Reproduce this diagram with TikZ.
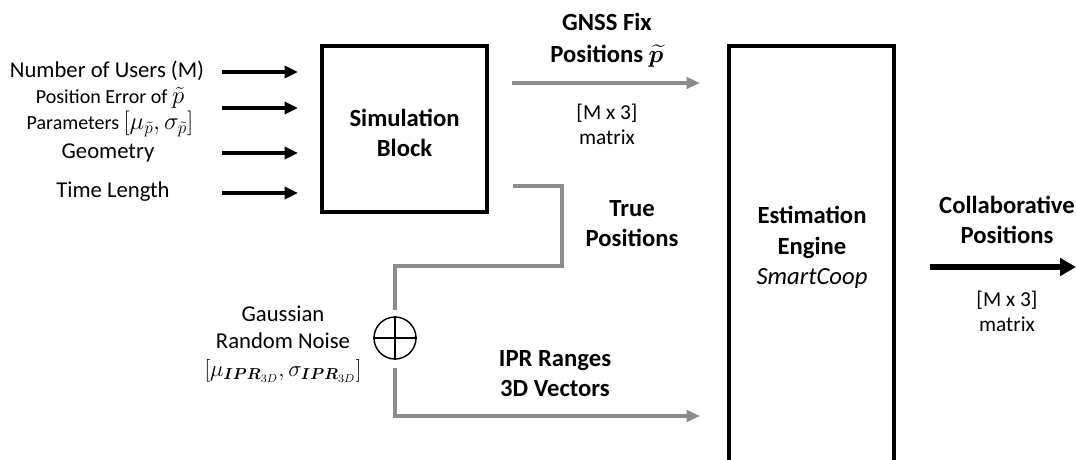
\RequirePackage{fix-cm}
\documentclass[tikz,border=0pt]{standalone}
\usepackage{fontspec}
\setmainfont{Carlito}
\usepackage{amsmath}
\usepackage{xcolor}
\definecolor{simgray}{RGB}{140,140,140}
\usetikzlibrary{arrows.meta, positioning, calc}
\newcommand{\bigmath}[1]{{\fontsize{18.5}{20.5}\selectfont$#1$}}

\begin{document}
\begin{tikzpicture}[x=0.75pt, y=-0.75pt,
  inarrow/.style={line width=3pt, -{Triangle[length=10pt,width=9pt]}},
  outarrow/.style={line width=4.5pt, -{Triangle[length=12pt,width=13pt]}},
  grayline/.style={line width=2.4pt, simgray},
  grayarrow/.style={grayline, -{Triangle[length=10pt,width=8.5pt]}},
  blockline/.style={line width=2.6pt},
  lbl/.style={font=\fontsize{17}{20.5}\selectfont, align=center, inner sep=0pt},
  smalllbl/.style={font=\fontsize{15}{20}\selectfont, align=center, inner sep=0pt},
  mtxlbl/.style={font=\fontsize{16}{19}\selectfont, align=center, inner sep=0pt},
  boldlbl/.style={font=\fontsize{18.5}{23}\selectfont\bfseries, align=center, inner sep=0pt}]
  \useasboundingbox (0,0) rectangle (1076,460);

  % --- Inputs ---
  \node[lbl] (users) at (107,71) {Number of Users (M)};
  \node[smalllbl] (poserr) at (110,112) {Position Error of \bigmath{\tilde{p}}\\Parameters \bigmath{[\mu_{\tilde{p}},\sigma_{\tilde{p}}]}};
  \node[lbl] (geom) at (108,153) {Geometry};
  \node[lbl] (timelen) at (113,192) {Time Length};
  \foreach \nm/\yy in {users/72, poserr/108, geom/153, timelen/193} {
    \coordinate (\nm A) at (222,\yy);
    \coordinate (\nm B) at (298,\yy);
    \draw[inarrow] (\nm A) -- (\nm B);
  }

  % --- Simulation block ---
  \draw[blockline] (322,46) rectangle (487,212);
  \node[boldlbl] (simlbl) at (404.5,133) {Simulation\\Block};

  % --- GNSS fix positions ---
  \coordinate (gnssA) at (512,83);
  \coordinate (gnssB) at (700,83);
  \draw[grayarrow] (gnssA) -- (gnssB);
  \node[boldlbl] (gnsslbl) at (607,40) {GNSS Fix\\[1pt]Positions $\boldsymbol{\widetilde{p}}$};
  \node[mtxlbl] (gnssmtx) at (607,124.5) {[M x 3]\\matrix};

  % --- True positions and noise ---
  \coordinate (trueA) at (513,186);
  \coordinate (trueB) at (562,266);
  \node[draw, circle, line width=1.1pt, minimum size=31.5pt, inner sep=0pt] (sum) at (395,338) {};
  \draw[line width=1.1pt] (sum.north) -- (sum.south) (sum.west) -- (sum.east);
  \draw[grayline, shorten >=5pt] (trueA) -| (trueB) -| (sum.north);
  \node[boldlbl] (truelbl) at (632,223.5) {True\\Positions};
  \node[lbl] (noise) at (283,344) {Gaussian\\Random Noise\\$[\mu_{\boldsymbol{IPR}_{3D}},\sigma_{\boldsymbol{IPR}_{3D}}]$};

  % --- IPR ranges ---
  \coordinate (iprB) at (700,416);
  \draw[grayarrow, shorten <=6pt] (sum.south) |- (iprB);
  \node[boldlbl] (iprlbl) at (555,373.5) {IPR Ranges\\3D Vectors};

  % --- Estimation engine ---
  \draw[blockline, line width=2.5pt] (729,46) rectangle (894,475);
  \node[boldlbl] (estlbl) at (812,247.5) {Estimation\\Engine\\\mdseries\itshape SmartCoop};

  % --- Output ---
  \coordinate (outA) at (930,267);
  \coordinate (outB) at (1076,267);
  \draw[outarrow] (outA) -- (outB);
  \node[boldlbl] (outlbl) at (1007,220) {Collaborative\\Positions};
  \node[mtxlbl] (outmtx) at (1007,311.5) {[M x 3]\\matrix};
\end{tikzpicture}
\end{document}
